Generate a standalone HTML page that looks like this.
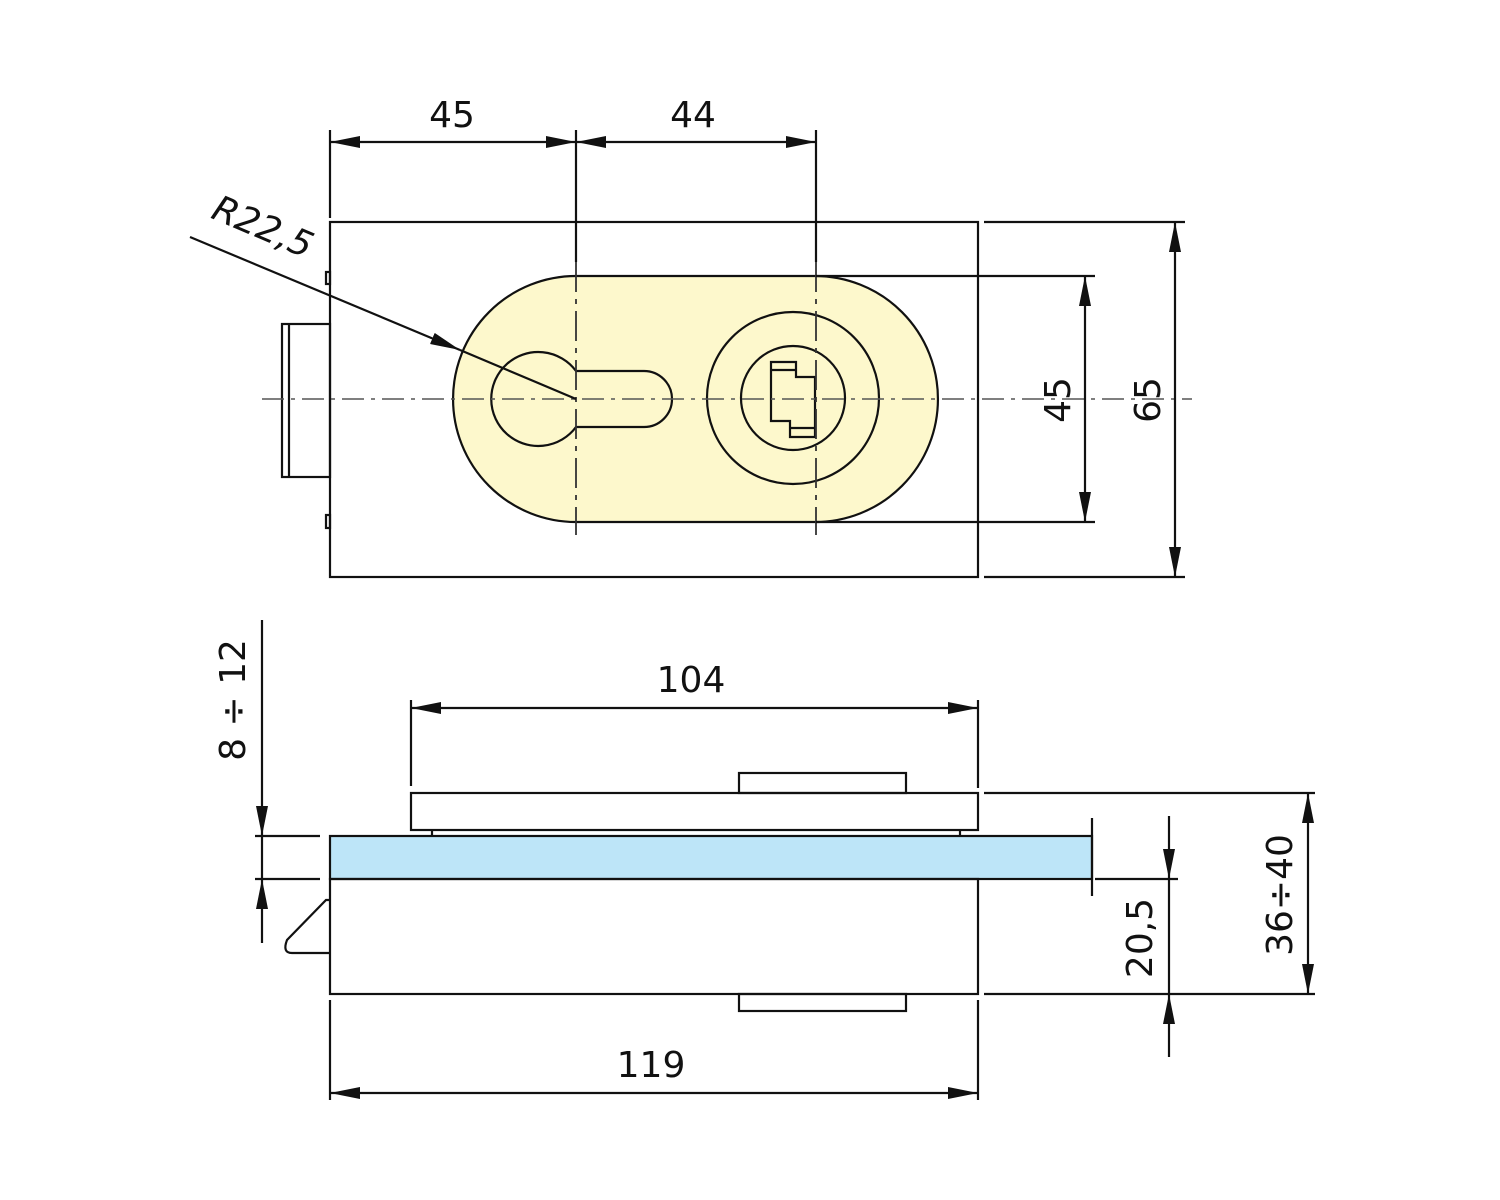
<!DOCTYPE html>
<html><head><meta charset="utf-8"><style>html,body{margin:0;padding:0;background:#fff}svg{display:block}text{font-family:"DejaVu Sans","Liberation Sans",sans-serif;fill:#111}</style></head>
<body>
<svg width="1500" height="1200" viewBox="0 0 1500 1200" xmlns="http://www.w3.org/2000/svg">
<defs>
<marker id="a" viewBox="0 0 30 12" refX="30" refY="6" markerWidth="30" markerHeight="12" markerUnits="userSpaceOnUse" orient="auto-start-reverse"><path d="M0,0 L30,6 L0,12 Z" fill="#111"/></marker>
</defs>
<g stroke="#111" stroke-width="2.2" fill="none">
<rect x="330" y="222" width="648" height="355"/>
<rect x="282" y="324" width="48" height="153"/>
<line x1="289" y1="324" x2="289" y2="477"/>
<rect x="326" y="272" width="4" height="12"/>
<rect x="326" y="515" width="4" height="13"/>
<path d="M576,276 L815,276 A123,123 0 0 1 815,522 L576,522 A123,123 0 0 1 576,276 Z" fill="#fdf8cc"/>
<path d="M576,371 A47,47 0 1 0 576,427 L644,427 A28,28 0 0 0 644,371 Z"/>
<circle cx="793" cy="398" r="86"/>
<circle cx="793" cy="398" r="52"/>
<path d="M771,362 L796,362 L796,377 L815,377 L815,437 L790,437 L790,421 L771,421 Z"/>
<line x1="771" y1="370" x2="796" y2="370"/>
<line x1="790" y1="428" x2="815" y2="428"/>
<g stroke="#555" stroke-width="1.6" stroke-dasharray="22,7,4,7">
<line x1="262" y1="399" x2="1192" y2="399"/>
</g>
<g stroke="#333" stroke-width="1.8" stroke-dasharray="30,7,5,7">
<line x1="576" y1="262" x2="576" y2="535"/>
<line x1="816" y1="262" x2="816" y2="535"/>
</g>
<line x1="576" y1="130" x2="576" y2="262"/>
<line x1="816" y1="130" x2="816" y2="262"/>
<line x1="330" y1="130" x2="330" y2="218"/>
<line x1="330" y1="142" x2="576" y2="142" marker-start="url(#a)" marker-end="url(#a)"/>
<line x1="576" y1="142" x2="816" y2="142" marker-start="url(#a)" marker-end="url(#a)"/>
<line x1="816" y1="276" x2="1095" y2="276"/>
<line x1="816" y1="522" x2="1095" y2="522"/>
<line x1="984" y1="222" x2="1185" y2="222"/>
<line x1="984" y1="577" x2="1185" y2="577"/>
<line x1="1085" y1="276" x2="1085" y2="522" marker-start="url(#a)" marker-end="url(#a)"/>
<line x1="1175" y1="222" x2="1175" y2="577" marker-start="url(#a)" marker-end="url(#a)"/>
<line x1="190" y1="237" x2="460" y2="350" marker-end="url(#a)"/>
<line x1="460" y1="350" x2="576" y2="399"/>
<rect x="739" y="773" width="167" height="20"/>
<rect x="411" y="793" width="567" height="37"/>
<line x1="432" y1="830" x2="432" y2="836"/>
<line x1="960" y1="830" x2="960" y2="836"/>
<rect x="330" y="836" width="762" height="43" fill="#bde5f8"/>
<line x1="1092" y1="818" x2="1092" y2="896"/>
<rect x="330" y="879" width="648" height="115"/>
<rect x="739" y="994" width="167" height="17"/>
<path d="M330,900 L326,900 L287,940 Q282,953 292,953 L330,953"/>
<line x1="411" y1="700" x2="411" y2="786"/>
<line x1="978" y1="700" x2="978" y2="788"/>
<line x1="411" y1="708" x2="978" y2="708" marker-start="url(#a)" marker-end="url(#a)"/>
<line x1="330" y1="1000" x2="330" y2="1100"/>
<line x1="978" y1="1000" x2="978" y2="1100"/>
<line x1="330" y1="1093" x2="978" y2="1093" marker-start="url(#a)" marker-end="url(#a)"/>
<line x1="255" y1="836" x2="320" y2="836"/>
<line x1="255" y1="879" x2="320" y2="879"/>
<line x1="262" y1="620" x2="262" y2="836" marker-end="url(#a)"/>
<line x1="262" y1="943" x2="262" y2="879" marker-end="url(#a)"/>
<line x1="262" y1="836" x2="262" y2="879"/>
<line x1="984" y1="793" x2="1315" y2="793"/>
<line x1="984" y1="994" x2="1315" y2="994"/>
<line x1="1095" y1="879" x2="1178" y2="879"/>
<line x1="1169" y1="816" x2="1169" y2="879" marker-end="url(#a)"/>
<line x1="1169" y1="1057" x2="1169" y2="994" marker-end="url(#a)"/>
<line x1="1169" y1="879" x2="1169" y2="994"/>
<line x1="1308" y1="793" x2="1308" y2="994" marker-start="url(#a)" marker-end="url(#a)"/>
</g>
<g font-size="36" text-anchor="middle">
<text x="452" y="127">45</text>
<text x="693" y="127">44</text>
<text transform="translate(1070,400) rotate(-90)">45</text>
<text transform="translate(1160,400) rotate(-90)">65</text>
<text transform="translate(258,238) rotate(23)" font-style="italic">R22,5</text>
<text x="691" y="692">104</text>
<text x="651" y="1077">119</text>
<text transform="translate(245,700) rotate(-90)">8 ÷ 12</text>
<text transform="translate(1152,938) rotate(-90)">20,5</text>
<text transform="translate(1292,895) rotate(-90)">36÷40</text>
</g>
</svg>
</body></html>
